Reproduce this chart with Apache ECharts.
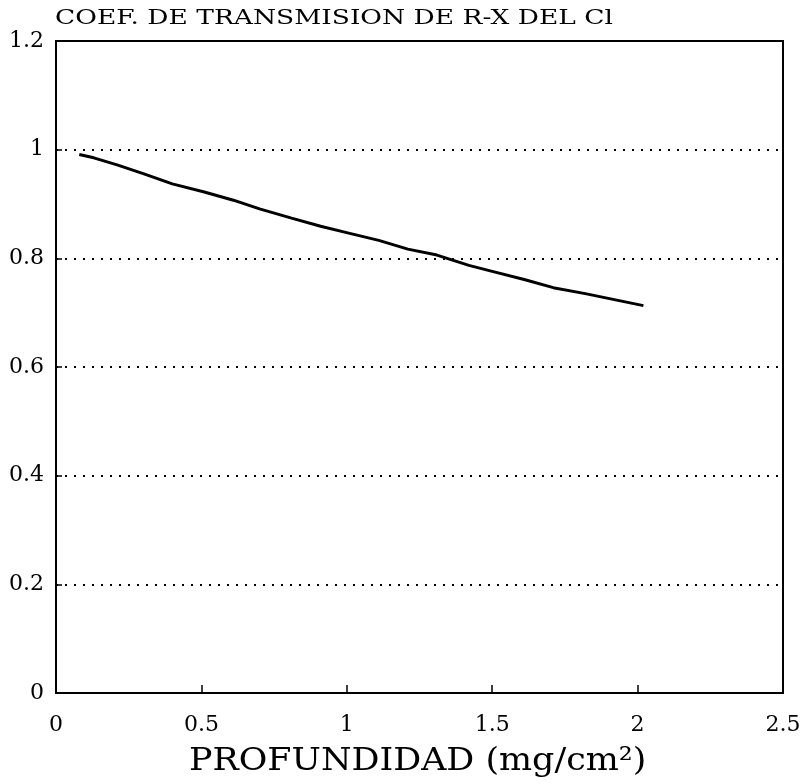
<!DOCTYPE html>
<html>
<head>
<meta charset="utf-8">
<script src="https://cdn.jsdelivr.net/npm/echarts@6/dist/echarts.min.js"></script>
<style>html,body{margin:0;padding:0;background:#fff;}#c{width:804px;height:784px;}</style>
</head>
<body>
<div id="c"></div>
<script>
const titleText = 'COEF. DE TRANSMISION DE R-X DEL Cl';
const xName = 'PROFUNDIDAD (mg/cm²)';
const depth = [0.08, 0.13, 0.21, 0.30, 0.40, 0.51, 0.61, 0.70, 0.81, 0.91, 1.01, 1.11, 1.21, 1.31, 1.42, 1.50, 1.61, 1.71, 1.82, 1.92, 2.02];
const transmission = [0.991, 0.985, 0.972, 0.956, 0.937, 0.922, 0.907, 0.891, 0.874, 0.859, 0.846, 0.833, 0.817, 0.806, 0.787, 0.776, 0.761, 0.746, 0.735, 0.724, 0.713];

const font = 'DejaVu Serif';
const chart = echarts.init(document.getElementById('c'));
chart.setOption({
  backgroundColor: '#fff',
  animation: false,
  grid: { left: 56, right: 21, top: 41, bottom: 91, show: true, borderColor: '#000', borderWidth: 2, backgroundColor: 'transparent' },
  graphic: [
    { type: 'text', left: 55, top: 8, scaleX: 1.26, style: { text: titleText, font: '21px "DejaVu Serif"', fill: '#000' } },
    { type: 'text', left: 189, top: 746, scaleX: 1.09, style: { text: xName, font: '32px "DejaVu Serif"', fill: '#000' } }
  ],
  xAxis: {
    type: 'value', min: 0, max: 2.5, interval: 0.5,
    axisLine: { show: true, lineStyle: { color: '#000', width: 2 } },
    axisTick: { show: true, inside: true, length: 8, lineStyle: { color: '#000', width: 1.5 } },
    axisLabel: { color: '#000', fontFamily: font, fontSize: 22, margin: 21 },
    splitLine: { show: false }
  },
  yAxis: {
    type: 'value', min: 0, max: 1.2, interval: 0.2,
    axisLine: { show: true, lineStyle: { color: '#000', width: 2 } },
    axisTick: { show: true, inside: true, length: 6, lineStyle: { color: '#000', width: 1.5 } },
    axisLabel: { color: '#000', fontFamily: font, fontSize: 22, margin: 12 },
    splitLine: { show: true, lineStyle: { color: '#000', width: 2, type: [2, 7] } }
  },
  series: [{
    type: 'line',
    data: depth.map((d, i) => [d, transmission[i]]),
    showSymbol: false,
    lineStyle: { color: '#000', width: 3 }
  }]
});
</script>
</body>
</html>
